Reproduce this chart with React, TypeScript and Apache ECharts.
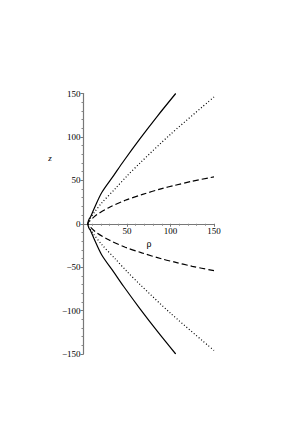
import React, { useEffect, useRef } from "react";
import * as echarts from "echarts";

// Upper branches (z > 0)
const solidRhoUp = [5, 5.5, 6.5, 8, 12, 21, 35, 46, 65, 85, 106];
const solidZUp = [0, 3, 5.5, 7.7, 17, 36, 56, 72, 98, 124, 150];
const dottedRhoUp = [5, 5.5, 6.5, 8, 12, 21, 37, 50, 65, 100, 150];
const dottedZUp = [0, 2.5, 4.5, 6.5, 12.5, 24, 41, 55, 70, 103, 146];
const dashedRhoUp = [5, 5.5, 6.5, 8, 14, 29, 48, 67, 90, 104, 125, 150];
const dashedZUp = [0, 1.5, 2.8, 4, 9.5, 18.5, 27, 33.5, 40.5, 44, 49, 54];

// Lower branches (z < 0), same rho values
const solidZDown = [0, -3, -5.5, -7.7, -17, -36, -56, -72, -98, -124, -150];
const dottedZDown = [0, -2.5, -4.5, -6.5, -12.5, -24, -41, -55, -70, -103, -146];
const dashedZDown = [0, -1.5, -2.8, -4, -9.5, -18.5, -27, -33.5, -40.5, -44, -49, -54];

const xTicks = [0, 50, 100, 150];
const yTicks = [-150, -100, -50, 0, 50, 100, 150];

function curve(rho: number[], up: number[], down: number[]) {
  const pts: number[][] = [];
  for (let i = rho.length - 1; i >= 1; i--) pts.push([rho[i], down[i]]);
  for (let i = 0; i < rho.length; i++) pts.push([rho[i], up[i]]);
  return pts;
}

const FONT = "Liberation Serif";
const GRID_TOP = 93.5;
const GRID_BOTTOM = 67;
const PLOT_H = 421 - GRID_TOP - GRID_BOTTOM;

export default function App() {
  const ref = useRef<HTMLDivElement>(null);
  useEffect(() => {
    if (!ref.current) return;
    const chart = echarts.init(ref.current, undefined, { renderer: "svg" });
    const axisCommon = {
      type: "value" as const,
      interval: 50,
      splitLine: { show: false },
      axisLine: { show: true, lineStyle: { color: "#777", width: 1.2 } },
      axisTick: { show: true, length: 3, lineStyle: { color: "#777", width: 1 } },
      minorTick: { show: true, splitNumber: 5, length: 2, lineStyle: { color: "#888", width: 1 } },
      axisLabel: {
        color: "#000",
        fontFamily: FONT,
        fontSize: 9,
        margin: 3,
        formatter: (v: number) => (v < 0 ? "\u2212" + Math.abs(v) : String(v)),
      },
    };
    const yMin = yTicks[0];
    const yMax = yTicks[yTicks.length - 1];
    const zeroOffset = -PLOT_H * (0 - yMin) / (yMax - yMin);
    chart.setOption({
      animation: false,
      grid: { left: 83.5, right: 84, top: GRID_TOP, bottom: GRID_BOTTOM, containLabel: false },
      xAxis: {
        ...axisCommon,
        min: xTicks[0],
        max: xTicks[xTicks.length - 1],
        offset: zeroOffset,
        axisLine: { ...axisCommon.axisLine, onZero: false },
        axisLabel: { ...axisCommon.axisLabel, showMinLabel: false, margin: 3 },
      },
      yAxis: {
        ...axisCommon,
        min: yMin,
        max: yMax,
      },
      graphic: [
        {
          type: "text",
          x: 50,
          y: 158,
          style: { text: "z", font: `italic 9px ${FONT}`, fill: "#000", align: "center", verticalAlign: "middle" },
        },
        {
          type: "text",
          x: 149,
          y: 243,
          style: { text: "\u03c1", font: `10px ${FONT}`, fill: "#000", align: "center", verticalAlign: "middle" },
        },
      ],
      series: [
        {
          type: "line",
          data: curve(solidRhoUp, solidZUp, solidZDown),
          showSymbol: false,
          smooth: 0.3,
          lineStyle: { color: "#000", width: 1.2, type: "solid" },
        },
        {
          type: "line",
          data: curve(dottedRhoUp, dottedZUp, dottedZDown),
          showSymbol: false,
          smooth: 0.3,
          lineStyle: { color: "#000", width: 1.2, type: [1, 2.2] },
        },
        {
          type: "line",
          data: curve(dashedRhoUp, dashedZUp, dashedZDown),
          showSymbol: false,
          smooth: 0.3,
          lineStyle: { color: "#000", width: 1.2, type: [6, 3] },
        },
      ],
    });
    return () => chart.dispose();
  }, []);
  return (
    <div
      ref={ref}
      style={{ position: "fixed", left: 0, top: 0, width: 298, height: 421, background: "#fff" }}
    />
  );
}
